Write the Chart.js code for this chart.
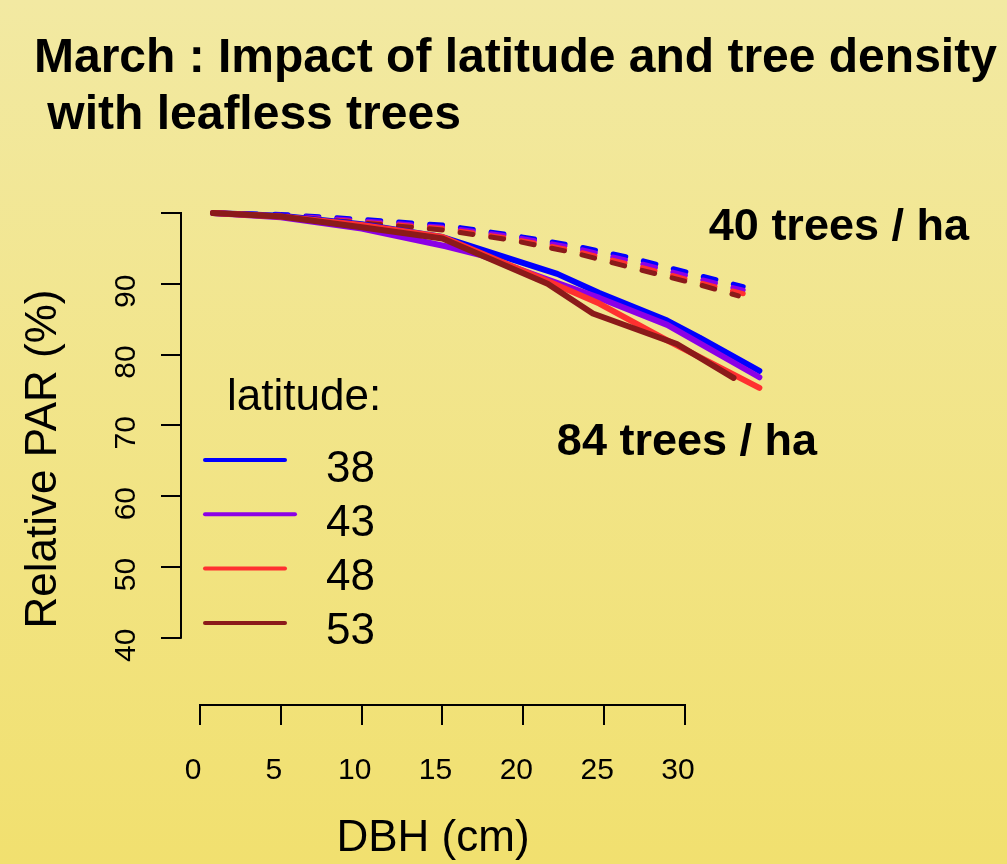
<!DOCTYPE html>
<html>
<head>
<meta charset="utf-8">
<title>March : Impact of latitude and tree density</title>
<script src="https://cdn.jsdelivr.net/npm/chart.js@4.4.0/dist/chart.umd.min.js"></script>
<style>
    html, body { margin: 0; padding: 0; }
    body { width: 1007px; height: 864px; overflow: hidden; background: linear-gradient(#F2E9A2, #F1E06F); }
    canvas { display: block; }
</style>
</head>
<body>
<canvas id="chart" width="1007" height="864"></canvas>
<script>
// -------- DATA -------- //

let latitudes = ['38', '43', '48', '53'];
let colors = ['#0000FF', '#8C00E6', '#FF3030', '#8B1A1A'];

// 84 trees / ha (solid)
let dbhDense38 = [0.8, 5, 10, 15, 22.1, 24.7, 28.9, 30.9, 34.6];
let parDense38 = [100, 99.6, 98.4, 96.6, 91.4, 88.7, 84.8, 82.4, 77.7];
let dbhDense43 = [0.8, 5, 10, 15.2, 17.3, 21.5, 24.7, 28.9, 34.6];
let parDense43 = [100, 99.4, 97.8, 95.3, 94.1, 90.6, 88.0, 84.2, 76.8];
let dbhDense48 = [0.8, 5, 10, 15, 21.5, 24.7, 28.9, 34.6];
let parDense48 = [100, 99.5, 98.3, 96.6, 90.4, 87.2, 82.0, 75.3];
let dbhDense53 = [0.8, 5, 10, 15, 21.5, 24.3, 29.5, 33.0];
let parDense53 = [100, 99.5, 98.0, 96.4, 90.0, 85.8, 81.5, 76.7];

// 40 trees / ha (dashed)
let dbhSparse38 = [0.8, 5, 10, 15, 19.2, 23.1, 27.0, 31.0, 33.6];
let parSparse38 = [100, 99.8, 99.1, 98.3, 96.9, 95.4, 93.5, 91.1, 89.6];
let dbhSparse43 = [0.8, 5, 10, 15, 19.2, 23.1, 27.0, 31.0, 33.6];
let parSparse43 = [100, 99.7, 98.9, 98.0, 96.7, 95.1, 93.0, 90.6, 89.1];
let dbhSparse48 = [0.8, 5, 10, 15, 19.2, 23.1, 27.0, 31.0, 33.6];
let parSparse48 = [100, 99.6, 98.7, 97.8, 96.4, 94.7, 92.5, 90.1, 88.6];
let dbhSparse53 = [0.8, 5, 10, 15, 19.2, 23.1, 27.0, 31.0, 33.3];
let parSparse53 = [100, 99.5, 98.6, 97.6, 96.2, 94.4, 92.1, 89.8, 88.3];

let xTicks = [0, 5, 10, 15, 20, 25, 30];
let xTickLabels = ['0', '5', '10', '15', '20', '25', '30'];
let yTicks = [40, 50, 60, 70, 80, 90, 100];
let yTickLabels = ['40', '50', '60', '70', '80', '90', ''];

let titleLines = ['March : Impact of latitude and tree density', ' with leafless trees'];
let densityLabels = ['40 trees / ha', '84 trees / ha'];

let fontFamily = '"Liberation Sans", Arial, Helvetica, sans-serif';


// -------- DATASETS -------- //

function makePoints(dbh, par) {
    let points = [];
    for (let i = 0; i < dbh.length; i++) {
        points.push({ x: dbh[i], y: par[i] });
    }
    return points;
}

function makeDataset(label, dbh, par, color, dashed, order) {
    return {
        label: label,
        data: makePoints(dbh, par),
        borderColor: color,
        borderWidth: dashed ? 5 : 6,
        borderDash: dashed ? [13, 18] : [],
        borderCapStyle: 'round',
        borderJoinStyle: 'round',
        pointRadius: 0,
        tension: 0,
        fill: false,
        clip: false,
        order: order
    };
}

let datasets = [
    makeDataset(latitudes[0], dbhDense38, parDense38, colors[0], false, 4),
    makeDataset(latitudes[1], dbhDense43, parDense43, colors[1], false, 3),
    makeDataset(latitudes[2], dbhDense48, parDense48, colors[2], false, 2),
    makeDataset(latitudes[3], dbhDense53, parDense53, colors[3], false, 1),
    makeDataset(latitudes[0], dbhSparse38, parSparse38, colors[0], true, 8),
    makeDataset(latitudes[1], dbhSparse43, parSparse43, colors[1], true, 7),
    makeDataset(latitudes[2], dbhSparse48, parSparse48, colors[2], true, 6),
    makeDataset(latitudes[3], dbhSparse53, parSparse53, colors[3], true, 5)
];


// -------- AXIS LINES, LABELS, LEGEND -------- //

let extrasPlugin = {
    id: 'extras',
    afterDraw(chart) {
        let ctx = chart.ctx;
        let xs = chart.scales.x;
        let ys = chart.scales.y;
        let area = chart.chartArea;
        ctx.save();

        // axis lines only between first and last tick (R style)
        ctx.strokeStyle = '#000';
        ctx.lineWidth = 2;
        ctx.beginPath();
        ctx.moveTo(xs.getPixelForValue(xTicks[0]) - 1, area.bottom);
        ctx.lineTo(xs.getPixelForValue(xTicks[xTicks.length - 1]) + 1, area.bottom);
        ctx.moveTo(area.left, ys.getPixelForValue(yTicks[0]) + 1);
        ctx.lineTo(area.left, ys.getPixelForValue(yTicks[yTicks.length - 1]) - 1);
        ctx.stroke();

        // density labels
        ctx.fillStyle = '#000';
        ctx.font = 'bold 45px ' + fontFamily;
        ctx.textAlign = 'center';
        ctx.textBaseline = 'alphabetic';
        ctx.fillText(densityLabels[0], xs.getPixelForValue(39.52), ys.getPixelForValue(96.19));
        ctx.fillText(densityLabels[1], xs.getPixelForValue(30.12), ys.getPixelForValue(65.81));

        // legend
        ctx.font = '44px ' + fontFamily;
        ctx.textAlign = 'left';
        ctx.fillText('latitude:', area.left + 46, area.top + 197);
        ctx.lineWidth = 4;
        ctx.lineCap = 'round';
        for (let i = 0; i < latitudes.length; i++) {
            let ly = area.top + 247 + i * 54.3;
            ctx.strokeStyle = colors[i];
            ctx.beginPath();
            ctx.moveTo(area.left + 24, ly);
            ctx.lineTo(area.left + (i === 1 ? 114 : 104), ly);
            ctx.stroke();
            ctx.fillText(latitudes[i], area.left + 145, ly + 21.5);
        }
        ctx.restore();
    }
};


// -------- CHART -------- //

new Chart(document.getElementById('chart'), {
    type: 'line',
    data: { datasets: datasets },
    options: {
        responsive: false,
        animation: false,
        devicePixelRatio: 1,
        events: [],
        layout: { padding: { left: 34, right: 5, top: 0, bottom: 0 } },
        plugins: {
            legend: { display: false },
            tooltip: { enabled: false },
            title: {
                display: true,
                align: 'start',
                text: titleLines,
                color: '#000',
                font: { family: fontFamily, size: 48, weight: 'bold', lineHeight: 1.2 },
                padding: { top: 29.6, bottom: 68.2 }
            }
        },
        scales: {
            x: {
                type: 'linear',
                bounds: 'data',
                // range set here (not as min/max options) so lines past 30 are still drawn
                afterDataLimits: (s) => { s.min = -1.175; s.max = 30; },
                afterBuildTicks: (s) => { s.ticks = xTicks.map(v => ({ value: v })); },
                afterFit: (s) => { s.height = 159; },
                grid: { display: true, drawOnChartArea: false, drawTicks: true, tickLength: 20, color: '#000', lineWidth: 2 },
                border: { display: false },
                ticks: {
                    autoSkip: false,
                    maxRotation: 0,
                    padding: 27.3,
                    labelOffset: -7,
                    color: '#000',
                    font: { family: fontFamily, size: 30 },
                    callback: (v, i) => xTickLabels[i]
                },
                title: {
                    display: true,
                    text: 'DBH (cm)',
                    color: '#000',
                    font: { family: fontFamily, size: 44, lineHeight: 1 },
                    padding: { top: 0, bottom: 3 }
                }
            },
            y: {
                type: 'linear',
                position: 'left',
                min: 30.5,
                max: 100,
                afterBuildTicks: (s) => { s.ticks = yTicks.map(v => ({ value: v })); },
                afterFit: (s) => { s.width = 147; },
                grid: { display: true, drawOnChartArea: false, drawTicks: true, tickLength: 20, color: '#000', lineWidth: 2 },
                border: { display: false },
                ticks: {
                    autoSkip: false,
                    minRotation: 90,
                    maxRotation: 90,
                    crossAlign: 'center',
                    padding: 17.3,
                    labelOffset: 7.5,
                    color: '#000',
                    font: { family: fontFamily, size: 30 },
                    callback: (v, i) => yTickLabels[i]
                },
                title: {
                    display: true,
                    text: 'Relative PAR (%)',
                    color: '#000',
                    font: { family: fontFamily, size: 44, lineHeight: 1 },
                    padding: { top: -12, bottom: 0 }
                }
            },
            // empty right-hand box so the plot region ends where R's did
            yPad: {
                type: 'linear',
                position: 'right',
                display: true,
                afterFit: (s) => { s.width = 317; },
                grid: { display: false },
                border: { display: false },
                ticks: { display: false }
            }
        }
    },
    plugins: [extrasPlugin]
});
</script>
</body>
</html>
